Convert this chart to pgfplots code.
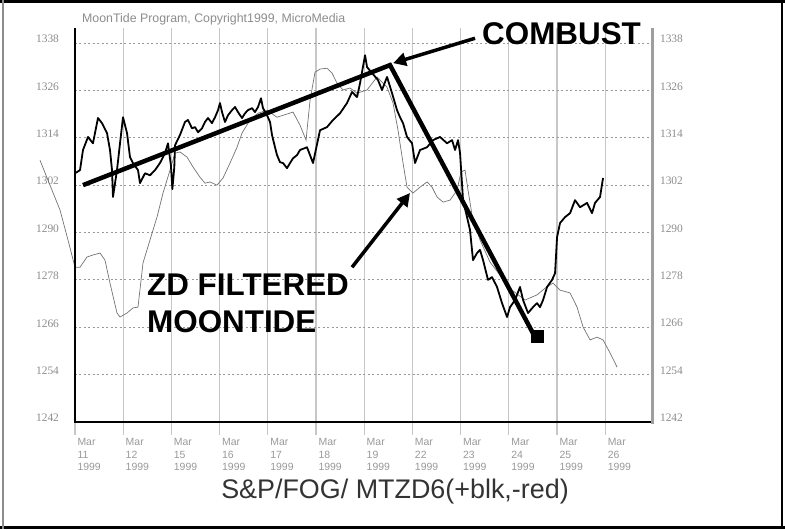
\documentclass[border=0pt]{standalone}
\usepackage{fontspec}
\setmainfont{Liberation Sans}
\newfontfamily\seriffont{Liberation Serif}
\usepackage{pgfplots}
\pgfplotsset{compat=1.18}
\usetikzlibrary{arrows.meta}

\begin{document}
\begin{tikzpicture}
\begin{axis}[
  scale only axis, width=577bp, height=394bp,
  xmin=0, xmax=11.97, ymin=1242, ymax=1341.8,
  clip=false,
  axis line style={draw=none},
  xtick={0,...,11},
  xticklabels={{Mar\\11\\1999},{Mar\\12\\1999},{Mar\\15\\1999},{Mar\\16\\1999},{Mar\\17\\1999},{Mar\\18\\1999},{Mar\\19\\1999},{Mar\\22\\1999},{Mar\\23\\1999},{Mar\\24\\1999},{Mar\\25\\1999},{Mar\\26\\1999}},
  xticklabel style={font=\fontsize{10.5}{12.5}\selectfont, text=black!40, align=left, anchor=north west, xshift=-1bp},
  xtick pos=left, tick align=outside, major tick length=13bp,
  xtick style={draw=black!22, line width=1.3bp},
  ytick={1242,1254,...,1338},
  ytick style={draw=none},
  yticklabel style={font=\seriffont\fontsize{11.5}{11.5}\selectfont, text=black!45, yshift=4bp, xshift=0.5bp},
  /pgf/number format/1000 sep={},
  /pgf/number format/assume math mode=true,
  xmajorgrids, ymajorgrids,
  x grid style={black!22, line width=1.3bp},
  y grid style={black!40, line width=0.9bp, dash pattern=on 2bp off 2.5bp},
]
% frame
\draw[black, line width=3bp] (rel axis cs:-0.12998,1.06726) -- (rel axis cs:1.23050,1.06726);
\draw[black, line width=3bp] (rel axis cs:-0.12998,-0.26777) -- (rel axis cs:1.23050,-0.26777);
\draw[black, line width=2bp] (rel axis cs:1.2253,-0.27157) -- (rel axis cs:1.2253,1.07107);
\draw[black!45, line width=1.5bp] (rel axis cs:-0.12478,-0.27157) -- (rel axis cs:-0.12478,1.07107);
\coordinate (BL) at (rel axis cs:-0.12998,-0.27157);
\coordinate (TR) at (rel axis cs:1.23050,1.07107);

% ZD filtered moontide (thin)
\addplot[black!55, line width=0.7bp] coordinates {
(-0.726,1308.3) (-0.519,1302.0) (-0.311,1295.7) (-0.145,1288.1) (0,1281.2) (0.104,1281.2) (0.249,1283.8) (0.373,1284.3) (0.519,1284.8) (0.622,1283.0) (0.726,1277.2) (0.871,1269.6) (0.934,1268.6) (1.079,1269.6) (1.203,1270.9) (1.307,1271.1) (1.411,1282.3) (1.556,1288.1) (1.701,1293.9) (1.826,1300.0) (1.971,1305.8) (2.075,1310.1) (2.178,1310.4) (2.324,1309.1) (2.448,1306.6) (2.593,1304.0) (2.697,1302.5) (2.801,1302.8) (2.946,1302.0) (3.071,1303.8) (3.216,1307.6) (3.361,1311.6) (3.465,1315.2) (3.631,1318.5) (3.797,1320.2) (3.983,1321.0) (4.191,1319.2) (4.523,1320.5) (4.668,1317.2) (4.793,1313.4) (4.876,1323.5) (4.979,1330.6) (5.083,1331.4) (5.228,1331.6) (5.332,1330.4) (5.436,1327.8) (5.560,1326.1) (5.705,1326.6) (5.851,1325.3) (6.058,1326.1) (6.266,1329.4) (6.473,1326.8) (6.598,1322.8) (6.701,1315.9) (6.805,1307.6) (6.888,1301.5) (7.012,1300.0) (7.158,1301.5) (7.303,1302.8) (7.407,1301.5) (7.510,1299.0) (7.635,1297.7) (7.780,1298.2) (7.925,1300.7) (8.008,1305.3) (8.091,1305.8) (8.154,1300.7) (8.237,1294.4) (8.402,1288.1) (8.610,1282.5) (8.817,1279.2) (9.066,1275.4) (9.336,1272.9) (9.585,1274.2) (9.751,1275.9) (9.917,1277.2) (10.062,1275.4) (10.270,1274.7) (10.415,1271.1) (10.539,1266.1) (10.685,1262.8) (10.830,1263.5) (10.954,1262.8) (11.100,1259.5) (11.245,1255.9)
};

% S&P price (black)
\addplot[black, line width=1.8bp, line join=round] coordinates {
(0,1305.0) (0.104,1305.8) (0.166,1310.9) (0.270,1314.2) (0.373,1312.6) (0.477,1319.0) (0.560,1317.7) (0.664,1315.2) (0.726,1310.9) (0.768,1305.8) (0.788,1299.0) (0.871,1305.8) (0.934,1312.6) (0.996,1319.2) (1.079,1315.2) (1.141,1309.1) (1.203,1307.6) (1.307,1305.8) (1.349,1302.5) (1.452,1305.0) (1.556,1304.5) (1.660,1305.8) (1.763,1307.6) (1.867,1310.1) (1.929,1312.6) (1.990,1307.0) (2.020,1301.0) (2.060,1306.5) (2.075,1312.1) (2.178,1314.7) (2.282,1318.0) (2.344,1318.5) (2.427,1316.4) (2.490,1316.7) (2.552,1315.4) (2.635,1316.4) (2.697,1318.0) (2.759,1319.0) (2.842,1317.7) (2.905,1319.2) (2.967,1321.0) (3.008,1322.8) (3.050,1320.5) (3.112,1318.0) (3.174,1319.7) (3.257,1321.0) (3.320,1321.8) (3.382,1320.5) (3.465,1319.0) (3.527,1320.2) (3.589,1321.0) (3.672,1321.5) (3.734,1320.5) (3.797,1321.8) (3.859,1324.0) (3.900,1321.5) (3.983,1319.7) (4.046,1318.0) (4.087,1314.7) (4.149,1311.6) (4.191,1309.6) (4.253,1307.8) (4.315,1307.6) (4.398,1306.3) (4.461,1307.6) (4.523,1308.8) (4.606,1309.6) (4.668,1310.9) (4.813,1311.6) (4.938,1307.6) (5.083,1315.9) (5.228,1316.7) (5.353,1318.5) (5.498,1320.2) (5.643,1322.8) (5.747,1325.6) (5.851,1324.3) (5.913,1327.8) (6.017,1334.9) (6.058,1331.9) (6.162,1330.4) (6.286,1328.6) (6.369,1326.1) (6.473,1329.4) (6.577,1325.3) (6.680,1321.0) (6.743,1319.2) (6.805,1317.7) (6.888,1314.2) (6.992,1312.6) (7.054,1307.6) (7.158,1310.9) (7.303,1311.6) (7.427,1313.4) (7.573,1314.2) (7.718,1312.6) (7.822,1313.4) (7.884,1310.9) (7.946,1313.4) (7.988,1310.1) (8.050,1298.2) (8.133,1293.9) (8.195,1290.6) (8.257,1283.0) (8.340,1284.8) (8.402,1285.6) (8.465,1283.0) (8.568,1278.0) (8.651,1278.7) (8.755,1276.2) (8.859,1272.1) (8.963,1268.6) (9.025,1271.1) (9.129,1272.9) (9.232,1276.2) (9.295,1272.9) (9.398,1269.6) (9.502,1271.1) (9.585,1272.1) (9.647,1271.1) (9.710,1272.9) (9.793,1276.2) (9.896,1278.0) (9.959,1279.7) (10.000,1288.8) (10.062,1292.4) (10.166,1293.9) (10.270,1294.9) (10.373,1298.2) (10.477,1296.4) (10.622,1297.5) (10.726,1294.9) (10.788,1297.5) (10.892,1299.0) (10.954,1303.8)
};

% trend lines
\addplot[black, line width=4.5bp, line join=miter] coordinates {(0.166,1302.0) (6.535,1332.4) (9.544,1263.5)};
\addplot[only marks, mark=square*, mark size=6bp, black] coordinates {(9.585,1263.8)};

% axis lines
\draw[black, line width=2bp] (rel axis cs:0,1) -- (rel axis cs:0,0) -- (rel axis cs:1,0);
\draw[black!38, line width=3bp] (rel axis cs:1,-0.005) -- (rel axis cs:1,1);

% texts
\node[anchor=base west, inner sep=0, text=black!45, font=\fontsize{12.4}{12.4}\selectfont] at (rel axis cs:0.0121,1.0152) {MoonTide Program, Copyright1999, MicroMedia};
\node[anchor=base, inner sep=0, text=black!80, font=\fontsize{27}{27}\selectfont] at (rel axis cs:0.5546,-0.1929) {S\&P/FOG/ MTZD6(+blk,-red)};
\node[anchor=base west, inner sep=0, font=\bfseries\fontsize{31.5}{31.5}\selectfont] at (rel axis cs:0.7054,0.9569) {COMBUST};
\node[anchor=base west, inner sep=0, font=\bfseries\fontsize{31.5}{31.5}\selectfont] at (rel axis cs:0.1248,0.3223) {ZD FILTERED};
\node[anchor=base west, inner sep=0, font=\bfseries\fontsize{31.5}{31.5}\selectfont] at (rel axis cs:0.1248,0.2284) {MOONTIDE};

% arrows
\draw[line width=3.5bp, -{Triangle[length=13bp,width=13bp]}] (axis cs:8.299,1339.2) -- (axis cs:6.598,1332.9);
\draw[line width=3.5bp, -{Triangle[length=13bp,width=13bp]}] (axis cs:5.747,1281.2) -- (axis cs:6.950,1300.0);
\end{axis}

\begin{axis}[
  scale only axis, width=577bp, height=394bp,
  xmin=0, xmax=11.97, ymin=1242, ymax=1341.8,
  axis line style={draw=none},
  xtick=\empty,
  ytick={1242,1254,...,1338},
  yticklabel pos=right,
  ytick style={draw=none},
  yticklabel style={font=\seriffont\fontsize{11.5}{11.5}\selectfont, text=black!45, yshift=4bp, xshift=4.5bp},
  /pgf/number format/1000 sep={},
  /pgf/number format/assume math mode=true,
]
\end{axis}
\pgfresetboundingbox
\path[use as bounding box] (BL) rectangle (TR);
\end{tikzpicture}
\end{document}
